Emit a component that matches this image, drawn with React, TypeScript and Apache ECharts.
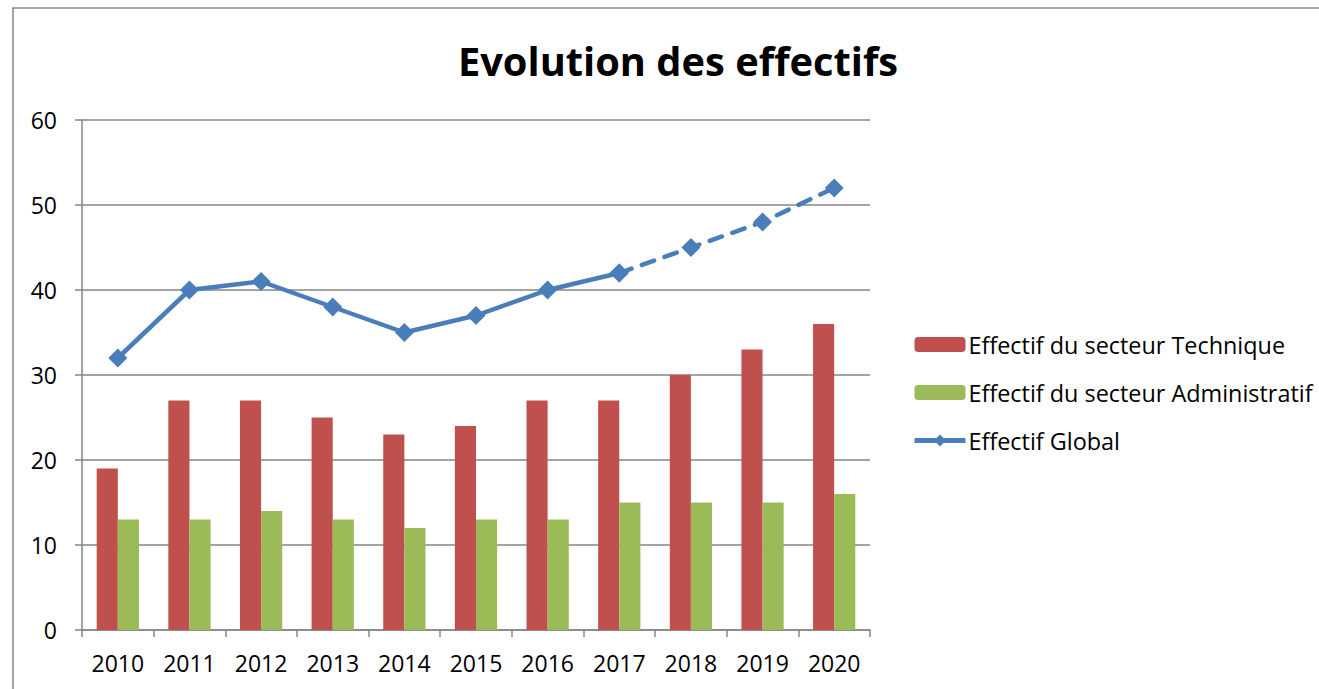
import React, { useEffect, useRef } from "react";
import * as echarts from "echarts";

const years = ["2010", "2011", "2012", "2013", "2014", "2015", "2016", "2017", "2018", "2019", "2020"];
const technique = [19, 27, 27, 25, 23, 24, 27, 27, 30, 33, 36];
const administratif = [13, 13, 14, 13, 12, 13, 13, 15, 15, 15, 16];
const globalSolid = [32, 40, 41, 38, 35, 37, 40, 42, null, null, null];
const globalDashed = [null, null, null, null, null, null, null, 42, 45, 48, 52];

const FONT = "Open Sans";

export default function App() {
  const ref = useRef<HTMLDivElement>(null);
  useEffect(() => {
    if (!ref.current) return;
    const chart = echarts.init(ref.current, null, { renderer: "svg" });
    const blue = "#4A7EBB";
    chart.setOption({
      animation: false,
      backgroundColor: "#ffffff",
      title: {
        text: "Evolution des effectifs",
        left: 673,
        textAlign: "center",
        top: 35,
        textStyle: { fontFamily: FONT, fontWeight: "bold", fontSize: 39.8, color: "#000" },
      },
      graphic: [
        {
          type: "rect",
          shape: { x: 13, y: 8, width: 1400, height: 800 },
          style: { fill: "none", stroke: "#888888", lineWidth: 1.5 },
          silent: true,
        },
      ],
      legend: {
        orient: "vertical",
        left: 912,
        top: 333,
        padding: 0,
        itemWidth: 51,
        itemHeight: 15,
        itemGap: 25,
        lineStyle: { width: 5 },
        textStyle: { fontFamily: FONT, fontSize: 23.4, color: "#000", lineHeight: 23, padding: [0, 0, 0, -2] },
        data: ["Effectif du secteur Technique", "Effectif du secteur Administratif", "Effectif Global"],
      },
      grid: { left: 82, top: 120, width: 788, height: 510, containLabel: false },
      xAxis: {
        type: "category",
        data: years,
        boundaryGap: true,
        axisLine: { lineStyle: { color: "#868686", width: 1.5 } },
        axisTick: { show: true, length: 7, lineStyle: { color: "#868686", width: 1.5 } },
        axisLabel: { fontFamily: FONT, fontSize: 23, color: "#000", margin: 21 },
      },
      yAxis: {
        type: "value",
        min: 0,
        max: 60,
        interval: 10,
        axisLine: { show: true, lineStyle: { color: "#868686", width: 1.5 } },
        axisTick: { show: true, length: 7, lineStyle: { color: "#868686", width: 1.5 } },
        axisLabel: { fontFamily: FONT, fontSize: 23, color: "#000", margin: 25 },
        splitLine: { lineStyle: { color: "#868686", width: 1.5 } },
      },
      series: [
        {
          name: "Effectif du secteur Technique",
          type: "bar",
          data: technique,
          barGap: "0%",
          barCategoryGap: "41%",
          itemStyle: { color: "#C0504D" },
        },
        {
          name: "Effectif du secteur Administratif",
          type: "bar",
          data: administratif,
          barGap: "0%",
          barCategoryGap: "41%",
          itemStyle: { color: "#9BBB59" },
        },
        {
          name: "Effectif Global",
          type: "line",
          data: globalSolid,
          symbol: "diamond",
          symbolSize: 19,
          lineStyle: { color: blue, width: 4.5 },
          itemStyle: { color: blue },
          z: 3,
        },
        {
          name: "Effectif Global",
          type: "line",
          data: globalDashed,
          symbol: "diamond",
          symbolSize: 19,
          lineStyle: { color: blue, width: 4.5, type: [13, 11], cap: "round" },
          itemStyle: { color: blue },
          z: 3,
        },
      ],
    });
    return () => chart.dispose();
  }, []);
  return (
    <div
      ref={ref}
      style={{ position: "fixed", left: 0, top: 0, width: 1319, height: 689 }}
    />
  );
}
